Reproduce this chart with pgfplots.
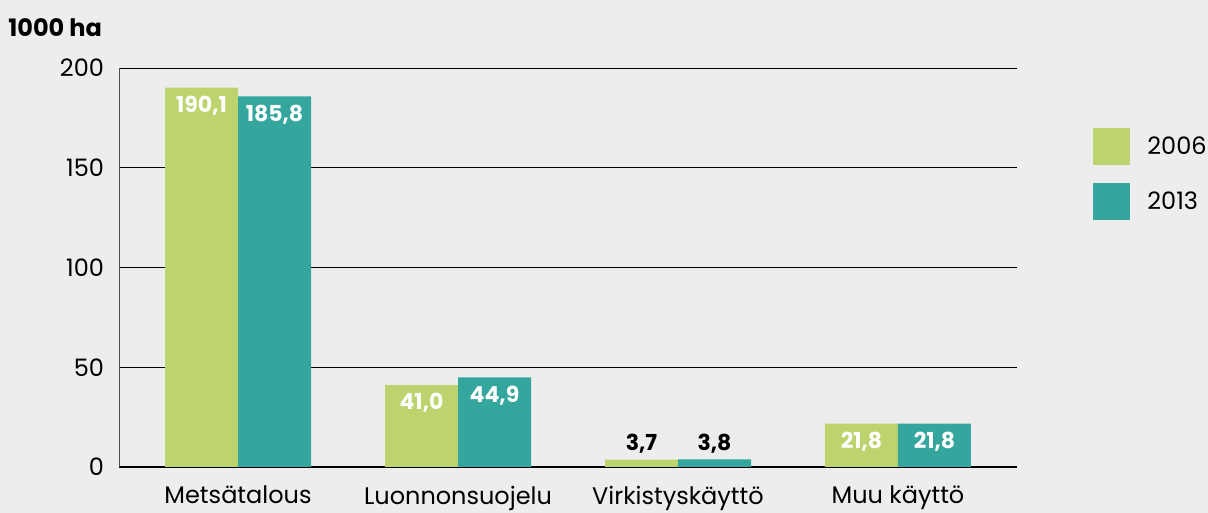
\documentclass[border=0pt]{standalone}
\usepackage{fontspec}
\setmainfont{Poppins}
\usepackage{pgfplots}
\pgfplotsset{compat=1.18}
\definecolor{bgc}{RGB}{237,237,237}
\definecolor{cgreen}{RGB}{188,211,110}
\definecolor{cteal}{RGB}{52,166,157}
\begin{document}
\begin{tikzpicture}
\fill[bgc] (0,0) rectangle (604pt,256.5pt);
\node[anchor=west, font=\fontsize{12}{14}\selectfont\bfseries, inner sep=0pt] at (4pt,242.5pt) {1000 ha};
\begin{axis}[
  at={(59.5pt,23pt)}, anchor=south west,
  scale only axis, width=449pt, height=199.5pt,
  xmin=-0.541, xmax=3.541, ymin=0, ymax=200,
  axis x line*=bottom, axis y line*=left,
  x axis line style={black, line width=0.8pt, -},
  y axis line style={black!70, line width=0.5pt, -},
  ytick={0,50,100,150,200},
  ymajorgrids, grid style={black, line width=0.4pt},
  xtick={0,1,2,3},
  xticklabels={Metsätalous,Luonnonsuojelu,Virkistyskäyttö,Muu käyttö},
  major tick length=0pt,
  tick label style={font=\fontsize{12}{14}\selectfont},
  /pgf/number format/assume math mode=true,
  yticklabel style={xshift=-4pt},
  xticklabel style={yshift=-6pt},
  legend style={at={(rel axis cs:1.0846,0.8496)}, anchor=north west, draw=none, fill=none,
    row sep=9pt, column sep=8.5pt, font=\fontsize{12}{14}\selectfont, inner sep=0pt,
    nodes={inner sep=0pt}},
  legend cell align=left,
  legend image code/.code={\fill[#1] (0pt,-9.25pt) rectangle (18.5pt,9.25pt);},
  nodes near coords style={font=\fontsize{11}{13}\selectfont\bfseries, inner sep=0pt,
    /pgf/number format/use comma, /pgf/number format/fixed, /pgf/number format/fixed zerofill,
    /pgf/number format/precision=1, /pgf/number format/assume math mode=true},
]
\addplot[ybar, bar width=36.5pt, bar shift=-18.25pt, fill=cgreen, draw=none]
  coordinates {(0,190.1) (1,41.0) (2,3.7) (3,21.8)};
\addlegendentry{2006}
\addplot[ybar, bar width=36.5pt, bar shift=18.25pt, fill=cteal, draw=none]
  coordinates {(0,185.8) (1,44.9) (2,3.8) (3,21.8)};
\addlegendentry{2013}
% labels inside bars (white)
\addplot[forget plot, draw=none, mark=none,
  nodes near coords,
  every node near coord/.append style={text=white, anchor=north, yshift=-4pt, xshift=-18.25pt}]
  coordinates {(0,190.1) (1,41.0) (3,21.8)};
\addplot[forget plot, draw=none, mark=none,
  nodes near coords,
  every node near coord/.append style={text=white, anchor=north, yshift=-4pt, xshift=18.25pt}]
  coordinates {(0,185.8) (1,44.9) (3,21.8)};
% labels above small bars (black)
\addplot[forget plot, draw=none, mark=none,
  nodes near coords,
  every node near coord/.append style={text=black, anchor=south, yshift=3pt, xshift=-18.25pt}]
  coordinates {(2,3.7)};
\addplot[forget plot, draw=none, mark=none,
  nodes near coords,
  every node near coord/.append style={text=black, anchor=south, yshift=3pt, xshift=18.25pt}]
  coordinates {(2,3.8)};
\end{axis}
\pgfresetboundingbox
\path[use as bounding box] (0,0) rectangle (604pt,256.5pt);
\end{tikzpicture}
\end{document}
